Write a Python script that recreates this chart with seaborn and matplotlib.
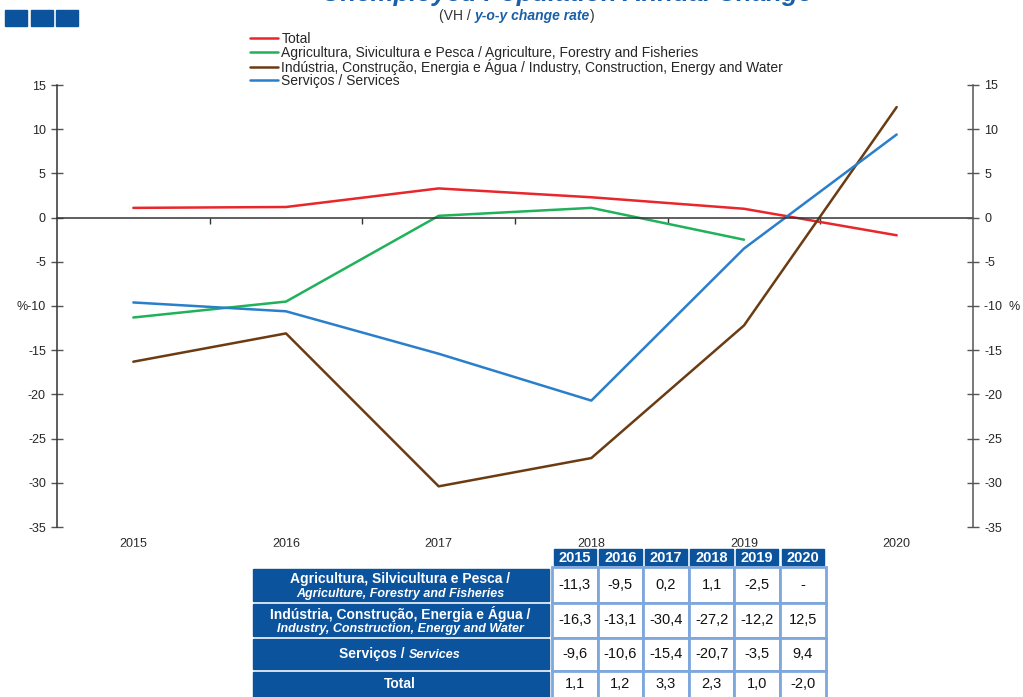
import numpy as np
import pandas as pd
import matplotlib.pyplot as plt
import seaborn as sns
from matplotlib.patches import Rectangle
from matplotlib.offsetbox import TextArea, HPacker, AnchoredOffsetbox
from matplotlib.ticker import FuncFormatter

# dados (VH %)
years = ['2015', '2016', '2017', '2018', '2019', '2020']
total = [1.1, 1.2, 3.3, 2.3, 1.0, -2.0]
agri = [-11.3, -9.5, 0.2, 1.1, -2.5, np.nan]
ind = [-16.3, -13.1, -30.4, -27.2, -12.2, 12.5]
serv = [-9.6, -10.6, -15.4, -20.7, -3.5, 9.4]

legend_names = ['Total',
                'Agricultura, Sivicultura e Pesca / Agriculture, Forestry and Fisheries',
                'Indústria, Construção, Energia e Água / Industry, Construction, Energy and Water',
                'Serviços / Services']
colors = ['#e8262b', '#1fb25a', '#6b3c12', '#2a7fcb']

row_pt = ['Agricultura, Silvicultura e Pesca /',
          'Indústria, Construção, Energia e Água /',
          'Serviços / ', 'Total']
row_en = ['Agriculture, Forestry and Fisheries',
          'Industry, Construction, Energy and Water',
          'Services', '']

sns.set_theme(style='white')
plt.rcParams['font.family'] = ['Liberation Sans', 'DejaVu Sans']

W, H = 1023, 697
fig = plt.figure(figsize=(W / 100, H / 100), dpi=100)
ax = fig.add_axes([57 / W, 1 - 527 / H, (973 - 57) / W, (527 - 85) / H])

series = [total, agri, ind, serv]
df = pd.concat([pd.DataFrame({'x': np.arange(6), 'v': s, 'serie': n})
                for s, n in zip(series, legend_names)], ignore_index=True)
sns.lineplot(data=df, x='x', y='v', hue='serie', hue_order=legend_names,
             palette=dict(zip(legend_names, colors)), linewidth=1.8,
             sort=False, ax=ax)

ax.set_xlim(-0.5, 5.5)
ax.set_ylim(-35, 15)
ax.set_xlabel('')
ax.set_ylabel('')

# eixo x na linha do zero
ax.spines['bottom'].set_position(('data', 0))
ax.spines['top'].set_visible(False)
ax.spines['right'].set_visible(False)
for s in ['bottom', 'left']:
    ax.spines[s].set_color('#333333')
    ax.spines[s].set_linewidth(1.1)
ax.set_xticks([0.5, 1.5, 2.5, 3.5, 4.5])
ax.tick_params(axis='x', direction='out', length=4, width=1, color='#333333',
               labelbottom=False, bottom=True)

sec = ax.secondary_xaxis(0)
sec.set_xticks(range(6), labels=years)
sec.tick_params(length=0, pad=8, labelsize=9)
sec.spines['bottom'].set_visible(False)

yt = list(range(-35, 16, 5))
ax.set_yticks(yt)
ax.yaxis.set_major_formatter(FuncFormatter(lambda v, p: '%-10' if v == -10 else f'{v:g}'))
ax.tick_params(axis='y', direction='inout', length=8, width=1, color='#555555',
               labelsize=9, pad=4, left=True)

ax2 = ax.twinx()
ax2.set_ylim(-35, 15)
ax2.set_yticks(yt)
ax2.yaxis.set_major_formatter(FuncFormatter(lambda v, p: '-10  %' if v == -10 else f'{v:g}'))
ax2.tick_params(axis='y', direction='inout', length=8, width=1, color='#555555',
                labelsize=9, pad=4, right=True)
for s in ['top', 'left', 'bottom']:
    ax2.spines[s].set_visible(False)
ax2.spines['right'].set_color('#555555')
ax2.spines['right'].set_linewidth(1.1)

# legenda: uma entrada por linha para espaçamento regular
ax.get_legend().remove()
handles, labels = ax.get_legend_handles_labels()
for i, (h, l) in enumerate(zip(handles, labels)):
    fig.legend([h], [l], loc='center left', bbox_to_anchor=(250 / W, 1 - (39 + 14 * i) / H),
               frameon=False, fontsize=10, handlelength=2.0, handletextpad=0.25,
               borderpad=0, borderaxespad=0)

# título (cortado em cima)
fig.text(567 / W, 1 - 1 / H, 'Unemployed Population Annual Change', ha='center',
         va='baseline', fontsize=18.5, fontweight='bold', fontstyle='italic', color='#1a5fa8')
sub = HPacker(children=[TextArea('(VH / ', textprops=dict(fontsize=10, color='#333333')),
                        TextArea('y-o-y change rate', textprops=dict(fontsize=10, color='#1a5fa8',
                                                                     fontweight='bold', fontstyle='italic')),
                        TextArea(')', textprops=dict(fontsize=10, color='#333333'))],
              pad=0, sep=0, align='baseline')
fig.add_artist(AnchoredOffsetbox(loc='center', child=sub, frameon=False, pad=0, borderpad=0,
                                 bbox_to_anchor=(517 / W, 1 - 16 / H),
                                 bbox_transform=fig.transFigure))

# camada de cima: logo e tabela
ov = fig.add_axes([0, 0, 1, 1], zorder=10)
ov.set_xlim(0, W)
ov.set_ylim(H, 0)
ov.axis('off')
ov.patch.set_alpha(0)

navy = '#0b539d'
for i in range(3):
    ov.add_patch(Rectangle((5 + i * 25.5, 10), 22, 16, color=navy))

ov.add_patch(Rectangle((0, 547), W, H - 547, color='white'))

col_x = [552 + c * 45.6 for c in range(7)]
row_y = [567, 602.5, 637.5, 670.5, 700]

for c, y in enumerate(years):
    ov.add_patch(Rectangle((col_x[c] + 1.5, 549), 42.5, 16, color=navy))
    ov.text(col_x[c] + 22.8, 557.5, y, ha='center', va='center', color='white',
            fontsize=10.5, fontweight='bold')

table_vals = [agri, ind, serv, total]
for r in range(4):
    y0, y1 = row_y[r], row_y[r + 1]
    ov.add_patch(Rectangle((253, y0 + 1.5), 296, y1 - y0 - 3, color=navy))
    for c in range(6):
        ov.add_patch(Rectangle((col_x[c], y0), 45.6, y1 - y0, facecolor='white',
                               edgecolor='#7ea7dc', linewidth=2))
        v = table_vals[r][c]
        s = '-' if np.isnan(v) else f'{v:.1f}'.replace('.', ',')
        ov.text(col_x[c] + 22.8, (y0 + y1) / 2 + (0 if r < 3 else -1), s, ha='center',
                va='center', fontsize=10.5, color='#111111')
    cx = 400
    if r < 2:
        ov.text(cx, y0 + 11.5, row_pt[r], ha='center', va='center', color='white',
                fontsize=10, fontweight='bold')
        ov.text(cx, y0 + 26.5, row_en[r], ha='center', va='center', color='white',
                fontsize=9, fontweight='bold', fontstyle='italic')
    elif r == 2:
        lab = HPacker(children=[TextArea(row_pt[r], textprops=dict(fontsize=10, color='white',
                                                                   fontweight='bold')),
                                TextArea(row_en[r], textprops=dict(fontsize=9, color='white',
                                                                   fontweight='bold', fontstyle='italic'))],
                      pad=0, sep=0, align='baseline')
        ov.add_artist(AnchoredOffsetbox(loc='center', child=lab, frameon=False, pad=0, borderpad=0,
                                        bbox_to_anchor=(cx, (y0 + y1) / 2),
                                        bbox_transform=ov.transData))
    else:
        ov.text(cx, (y0 + y1) / 2 - 1, row_pt[r], ha='center', va='center', color='white',
                fontsize=10, fontweight='bold')

fig.savefig('out.png', dpi=100)
